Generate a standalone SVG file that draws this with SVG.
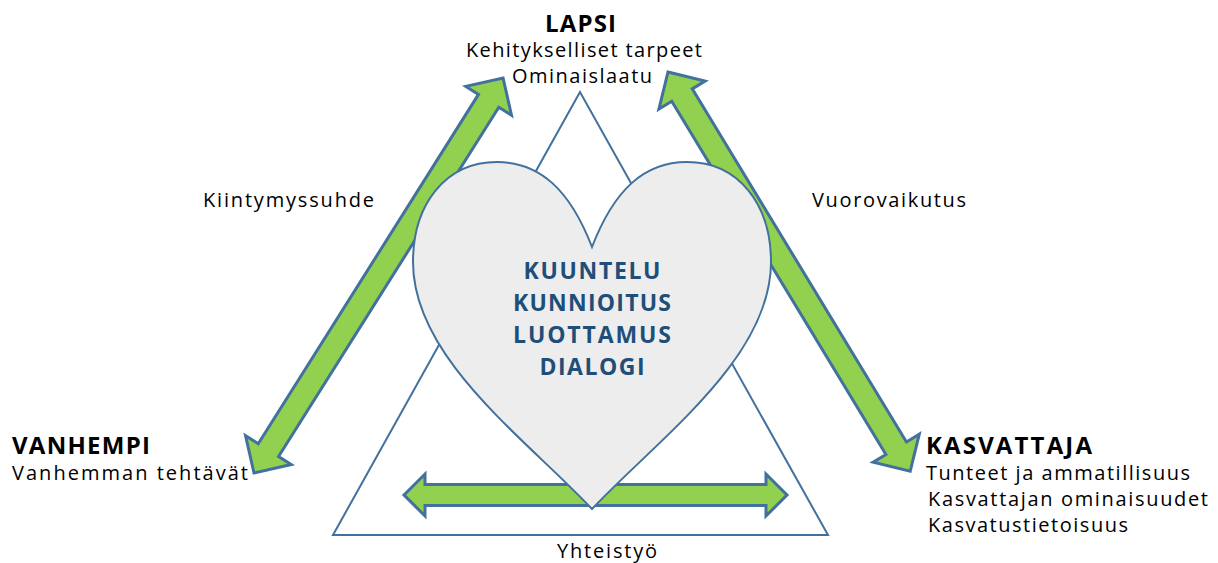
<svg xmlns="http://www.w3.org/2000/svg" width="1218" height="563" viewBox="0 0 1218 563">
<defs>
<style>
.t{font-family:"Open Sans","Noto Sans","Liberation Sans",sans-serif;font-size:20px;fill:#000}
.b{font-family:"Open Sans","Noto Sans","Liberation Sans",sans-serif;font-size:24px;font-weight:700;fill:#000}
.h{font-family:"Open Sans","Noto Sans","Liberation Sans",sans-serif;font-size:23px;font-weight:700;fill:#1F4E79;text-anchor:middle}
.arr{fill:#92D050;stroke:#41719C;stroke-width:3;stroke-linejoin:miter}
.tri{fill:#fff;stroke:#41719C;stroke-width:2}
.heart{fill:#EDEDED;stroke:#41719C;stroke-width:2}
</style>
</defs>
<rect width="1218" height="563" fill="#fff"/>
<g id="triangle">
<polygon class="tri" points="580,92 333,535 828,535"/>
</g>
<g id="connectors">
<polygon class="arr" transform="translate(254,473) rotate(-57.77)" points="0,0 27,-27 27,-12 440,-12 440,-27 467,0 440,27 440,12 27,12 27,27"/>
<polygon class="arr" transform="translate(668,72) rotate(58.76)" points="0,0 27,-27 27,-12 440,-12 440,-27 467,0 440,27 440,12 27,12 27,27"/>
<polygon class="arr" points="404,495 425,474 425,484.5 766,484.5 766,474 787,495 766,516 766,505.5 425,505.5 425,516"/>
</g>
<g id="heart">
<path class="heart" d="M592,247 C570,190 540,162 497,162 C445,162 413,205 413,262 C413,358 525,438 592,509 C659,438 771,358 771,262 C771,205 739,162 687,162 C644,162 614,190 592,247 Z"/>
<text class="h" x="592" y="279" textLength="137" lengthAdjust="spacing">KUUNTELU</text>
<text class="h" x="592" y="311" textLength="158" lengthAdjust="spacing">KUNNIOITUS</text>
<text class="h" x="592" y="343" textLength="158" lengthAdjust="spacing">LUOTTAMUS</text>
<text class="h" x="592" y="375" textLength="105" lengthAdjust="spacing">DIALOGI</text>
</g>
<g id="lapsi">
<text class="b" x="545" y="32" textLength="71" lengthAdjust="spacing">LAPSI</text>
<text class="t" x="466" y="57" textLength="236" lengthAdjust="spacing">Kehitykselliset tarpeet</text>
<text class="t" x="512" y="83" textLength="140" lengthAdjust="spacing">Ominaislaatu</text>
</g>
<g id="vanhempi">
<text class="b" x="12" y="454" textLength="138" lengthAdjust="spacing">VANHEMPI</text>
<text class="t" x="12" y="480" textLength="236" lengthAdjust="spacing">Vanhemman tehtävät</text>
</g>
<g id="kasvattaja">
<text class="b" x="926" y="454" textLength="166" lengthAdjust="spacing">KASVATTAJA</text>
<text class="t" x="926" y="480" textLength="264" lengthAdjust="spacing">Tunteet ja ammatillisuus</text>
<text class="t" x="928" y="506" textLength="280" lengthAdjust="spacing">Kasvattajan ominaisuudet</text>
<text class="t" x="928" y="532" textLength="200" lengthAdjust="spacing">Kasvatustietoisuus</text>
</g>
<g id="labels">
<text class="t" x="203" y="207" textLength="171" lengthAdjust="spacing">Kiintymyssuhde</text>
<text class="t" x="812" y="207" textLength="154" lengthAdjust="spacing">Vuorovaikutus</text>
<text class="t" x="557" y="558" textLength="100" lengthAdjust="spacing">Yhteistyö</text>
</g>
</svg>
